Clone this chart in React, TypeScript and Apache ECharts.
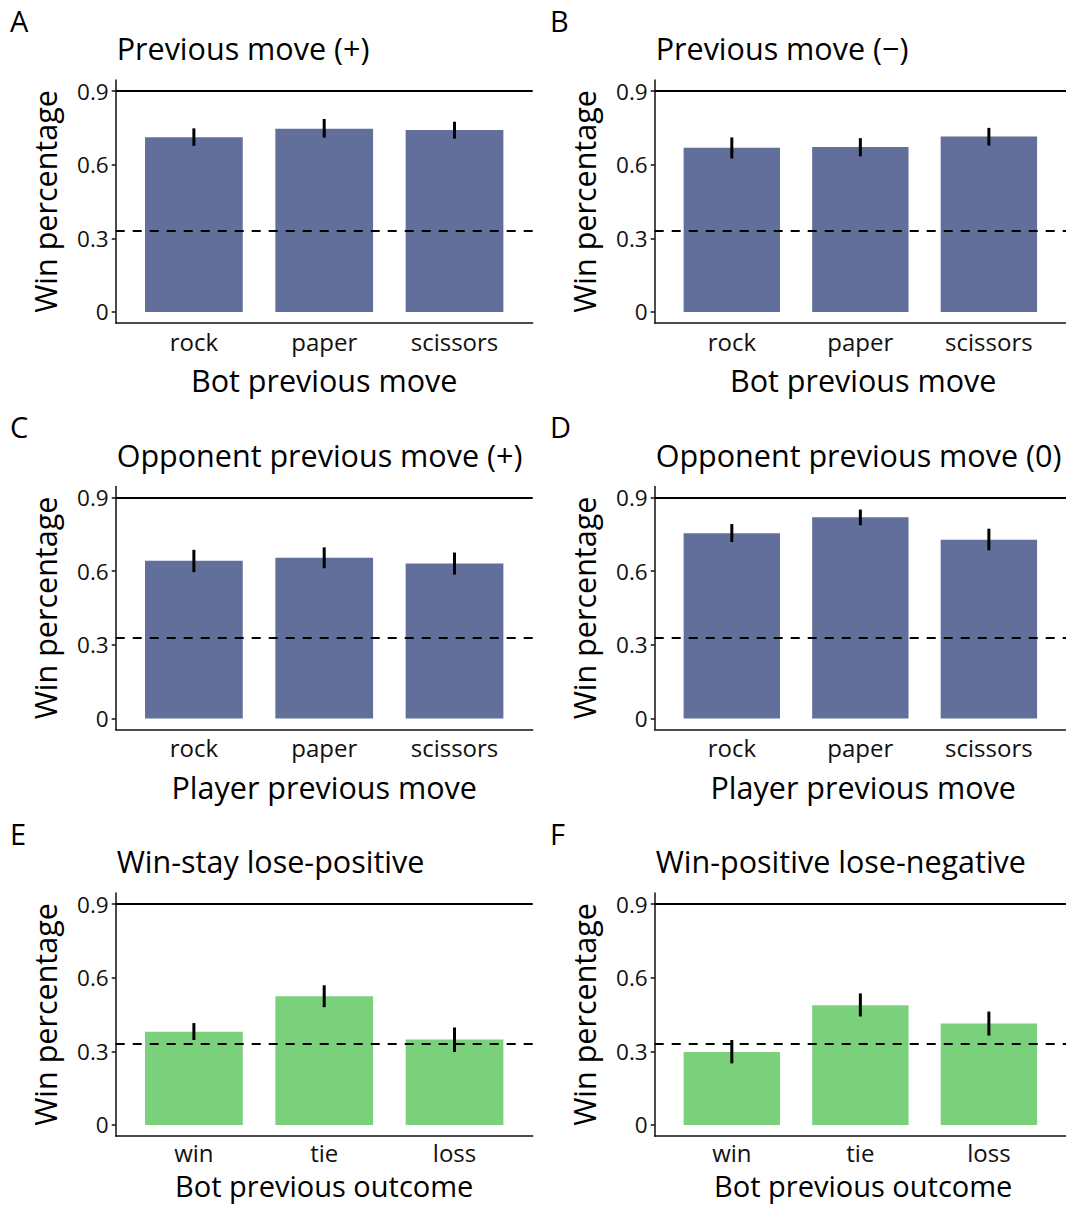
import React, { useEffect, useRef } from "react";
import * as echarts from "echarts";

// ---- Data ----
const moveCategories = ["rock", "paper", "scissors"];
const outcomeCategories = ["win", "tie", "loss"];

const aMeans = [0.712, 0.746, 0.741];
const aLow = [0.677, 0.71, 0.706];
const aHigh = [0.748, 0.786, 0.775];

const bMeans = [0.669, 0.672, 0.715];
const bLow = [0.625, 0.634, 0.678];
const bHigh = [0.711, 0.708, 0.75];

const cMeans = [0.642, 0.655, 0.631];
const cLow = [0.596, 0.612, 0.586];
const cHigh = [0.687, 0.697, 0.676];

const dMeans = [0.755, 0.82, 0.728];
const dLow = [0.719, 0.787, 0.685];
const dHigh = [0.792, 0.851, 0.773];

const eMeans = [0.38, 0.524, 0.348];
const eLow = [0.346, 0.48, 0.297];
const eHigh = [0.415, 0.569, 0.397];

const fMeans = [0.297, 0.488, 0.413];
const fLow = [0.251, 0.442, 0.364];
const fHigh = [0.346, 0.536, 0.462];

const yTicks = [0, 0.3, 0.6, 0.9];
const chanceLevel = 1 / 3;
const ceilingLevel = 0.9;

const panelLetters = ["A", "B", "C", "D", "E", "F"];
const panelTitles = [
  "Previous move (+)",
  "Previous move (\u2212)",
  "Opponent previous move (+)",
  "Opponent previous move (0)",
  "Win-stay lose-positive",
  "Win-positive lose-negative",
];
const xTitles = [
  "Bot previous move",
  "Bot previous move",
  "Player previous move",
  "Player previous move",
  "Bot previous outcome",
  "Bot previous outcome",
];
const panelMeans = [aMeans, bMeans, cMeans, dMeans, eMeans, fMeans];
const panelLow = [aLow, bLow, cLow, dLow, eLow, fLow];
const panelHigh = [aHigh, bHigh, cHigh, dHigh, eHigh, fHigh];
const panelCats = [
  moveCategories,
  moveCategories,
  moveCategories,
  moveCategories,
  outcomeCategories,
  outcomeCategories,
];

const BLUE = "#626F9B";
const GREEN = "#7BD07C";
const FONT = "'Open Sans', 'Noto Sans', sans-serif";

export default function App() {
  const ref = useRef<HTMLDivElement>(null);

  useEffect(() => {
    if (!ref.current) return;
    const chart = echarts.init(ref.current, undefined, { renderer: "svg" });

    const colLeft = [115.7, 654.7];
    const plotW = 417;
    const plotH = 243;
    const rowStep = 406.5;
    const firstTop = 80;

    const grids: any[] = [];
    const xAxes: any[] = [];
    const yAxes: any[] = [];
    const series: any[] = [];
    const graphics: any[] = [];

    for (let i = 0; i < 6; i++) {
      const col = i % 2;
      const row = Math.floor(i / 2);
      const lastRow = row === 2;
      const left = colLeft[col];
      const top = firstTop + row * rowStep;
      const cats = panelCats[i];
      const color = i >= 4 ? GREEN : BLUE;

      grids.push({ left, top, width: plotW, height: plotH, containLabel: false });

      xAxes.push({
        type: "value",
        gridIndex: i,
        min: 0.4,
        max: 3.6,
        axisLine: { show: true, onZero: false, lineStyle: { color: "#111", width: 1.5 } },
        axisTick: { show: false },
        splitLine: { show: false },
        axisLabel: {
          customValues: [1, 2, 3],
          formatter: (v: number) => cats[Math.round(v) - 1] ?? "",
          color: "#111",
          fontSize: 24,
          lineHeight: 24,
          fontFamily: FONT,
          margin: lastRow ? 4 : 6,
        },
      });

      yAxes.push({
        type: "value",
        gridIndex: i,
        min: -0.045,
        max: 0.945,
        axisLine: { show: true, onZero: false, lineStyle: { color: "#111", width: 1.5 } },
        axisTick: {
          show: true,
          customValues: yTicks,
          length: 4,
          lineStyle: { color: "#111", width: 1.5 },
        },
        splitLine: { show: false },
        axisLabel: {
          customValues: yTicks,
          formatter: (v: number) => (Math.abs(v) < 1e-9 ? "0" : String(Math.round(v * 10) / 10)),
          color: "#111",
          fontSize: 22.5,
          fontFamily: FONT,
          margin: 7,
        },
      });

      const means = panelMeans[i];
      const lows = panelLow[i];
      const highs = panelHigh[i];

      series.push({
        type: "bar",
        xAxisIndex: i,
        yAxisIndex: i,
        barWidth: "75%",
        data: means.map((m, k) => [k + 1, m]),
        itemStyle: { color },
        silent: true,
        markLine: {
          silent: true,
          symbol: ["none", "none"],
          label: { show: false },
          data: [
            { yAxis: ceilingLevel, lineStyle: { color: "#000", width: 2, type: "solid" } },
            { yAxis: chanceLevel, lineStyle: { color: "#000", width: 2, type: [9, 8] } },
          ],
        },
        z: 2,
      });

      series.push({
        type: "custom",
        xAxisIndex: i,
        yAxisIndex: i,
        silent: true,
        data: means.map((_, k) => [k + 1, lows[k], highs[k]]),
        renderItem: (params: any, api: any) => {
          const x = api.value(0);
          const p0 = api.coord([x, api.value(1)]);
          const p1 = api.coord([x, api.value(2)]);
          return {
            type: "line",
            shape: { x1: p0[0], y1: p0[1], x2: p1[0], y2: p1[1] },
            style: { stroke: "#000", lineWidth: 3 },
          };
        },
        z: 5,
      });

      // panel letter
      graphics.push({
        type: "text",
        x: col === 0 ? 10 : 550,
        y: 20 + row * rowStep,
        style: {
          text: panelLetters[i],
          font: `29px ${FONT}`,
          fill: "#000",
          textAlign: "left",
          textVerticalAlign: "middle",
        },
      });
      // panel title
      graphics.push({
        type: "text",
        x: left + 1,
        y: 48 + row * rowStep,
        style: {
          text: panelTitles[i],
          font: `30.5px ${FONT}`,
          fill: "#000",
          textAlign: "left",
          textVerticalAlign: "middle",
        },
      });
      // x title
      graphics.push({
        type: "text",
        x: left + plotW / 2,
        y: lastRow ? 1185 : 380 + row * rowStep,
        style: {
          text: xTitles[i],
          font: `${lastRow ? 29 : 30.5}px ${FONT}`,
          lineHeight: 30,
          fill: "#000",
          textAlign: "center",
          textVerticalAlign: "middle",
        },
      });
      // y title
      graphics.push({
        type: "text",
        x: left - 71,
        y: top + plotH / 2,
        rotation: Math.PI / 2,
        style: {
          text: "Win percentage",
          font: `30.5px ${FONT}`,
          fill: "#000",
          textAlign: "center",
          textVerticalAlign: "middle",
        },
      });
    }

    chart.setOption({
      animation: false,
      backgroundColor: "#fff",
      grid: grids,
      xAxis: xAxes,
      yAxis: yAxes,
      series,
      graphic: graphics,
    });

    return () => chart.dispose();
  }, []);

  return (
    <div
      ref={ref}
      style={{ position: "absolute", left: 0, top: 0, width: 1066, height: 1207 }}
    />
  );
}
